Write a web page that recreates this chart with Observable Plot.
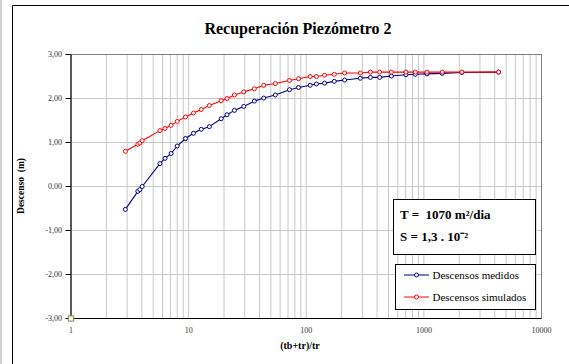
<!DOCTYPE html>
<html><head><meta charset="utf-8">
<script src="https://cdn.jsdelivr.net/npm/d3@7"></script>
<script src="https://cdn.jsdelivr.net/npm/@observablehq/plot@0.6"></script>
<style>body{margin:0;background:#fff;} svg{display:block;}</style>
</head><body><div id="chart"></div>
<script>
// ---- data ----
const ratio = [2.9, 3.7, 3.85, 4.03, 5.7, 6.3, 7.1, 8.0, 9.4, 11, 12.8, 15, 18.9, 21.2, 24.5, 29.4, 36.2, 43.5, 54.6, 72, 86, 108, 122, 143, 173, 212, 288, 351, 421, 529, 704, 845, 1062, 1432, 2104, 4315];
const medidos = [-0.52, -0.11, -0.07, 0.00, 0.52, 0.64, 0.75, 0.92, 1.09, 1.21, 1.30, 1.36, 1.54, 1.63, 1.73, 1.82, 1.94, 2.01, 2.08, 2.20, 2.25, 2.30, 2.33, 2.35, 2.39, 2.42, 2.46, 2.48, 2.48, 2.51, 2.54, 2.55, 2.56, 2.57, 2.59, 2.60];
const simulados = [0.80, 0.96, 0.99, 1.04, 1.27, 1.32, 1.39, 1.48, 1.58, 1.67, 1.75, 1.84, 1.95, 2.00, 2.08, 2.15, 2.22, 2.30, 2.34, 2.41, 2.45, 2.50, 2.50, 2.53, 2.55, 2.58, 2.58, 2.60, 2.60, 2.60, 2.60, 2.60, 2.60, 2.60, 2.60, 2.60];
const seriesNames = ["Descensos medidos", "Descensos simulados"];
const seriesColors = ["#000080", "#ff0000"];
const originX = [1];
const originY = [-3];
const xTickLabels = [1, 10, 100, 1000, 10000];
const yTickLabels = [-3, -2, -1, 0, 1, 2, 3];
const titleText = "Recuperación Piezómetro 2";
const xLabelText = "(tb+tr)/tr";
const yLabelText = "Descenso  (m)";
const paramLines = ["T =  1070 m²/dia", "S = 1,3 . 10⁻²"];

// ---- build ----
const W = 569, H = 364;
const serif = "'Liberation Serif', 'Times New Roman', serif";
const seriesData = [medidos, simulados].map((vals, i) =>
  ratio.map((r, j) => ({x: r, y: vals[j], s: seriesNames[i]})));
const allData = seriesData.flat();
const originData = originX.map((x, i) => ({x, y: originY[i]}));
const fmtY = d => d.toFixed(2).replace(".", ",");
const minorTicks = d3.scaleLog().domain([1, 10000]).ticks();

const plot = Plot.plot({
  width: W, height: H,
  marginLeft: 70.5, marginRight: 28, marginTop: 54, marginBottom: 46,
  style: {fontFamily: serif, fontSize: "8px", background: "white", overflow: "visible"},
  x: {type: "log", domain: [1, 10000]},
  y: {domain: [-3, 3]},
  color: {domain: seriesNames, range: seriesColors},
  marks: [
    Plot.gridX(minorTicks, {stroke: "#c8c8c8", strokeOpacity: 1}),
    Plot.gridY(yTickLabels, {stroke: "#c8c8c8", strokeOpacity: 1}),
    Plot.frame({stroke: "#808080"}),
    Plot.ruleX([1], {stroke: "black"}),
    Plot.ruleY([-3], {stroke: "black"}),
    Plot.axisY(yTickLabels, {tickSize: 5, tickPadding: 4, tickFormat: fmtY, label: null, stroke: "black", fill: "#333", fontSize: 8}),
    Plot.axisX(xTickLabels, {tickSize: 0, tickPadding: 9, tickFormat: d => String(d), label: null, fill: "#333", fontSize: 8}),
    Plot.line(allData, {x: "x", y: "y", z: "s", stroke: "s", strokeWidth: 1.1}),
    Plot.dot(allData, {x: "x", y: "y", stroke: "s", fill: "white", r: 2, strokeWidth: 1}),
    Plot.dot(originData, {x: "x", y: "y", symbol: "square", r: 3, fill: "#ffffc0", stroke: "#808080", strokeWidth: 1})
  ]
});

const svg = d3.select(plot);
// outer chart-area border
svg.append("line").attr("x1", 1).attr("x2", 1).attr("y1", 0).attr("y2", H).attr("stroke", "#c0c0c0").attr("stroke-width", 1.5);
svg.append("line").attr("x1", 12.5).attr("x2", 12.5).attr("y1", 5.5).attr("y2", H).attr("stroke", "black");
svg.append("line").attr("x1", 12.5).attr("x2", W).attr("y1", 5.5).attr("y2", 5.5).attr("stroke", "black");

// title
svg.append("text").attr("x", 298).attr("y", 33.5).attr("text-anchor", "middle")
  .attr("font-family", serif).attr("font-weight", "bold").attr("font-size", 16).attr("fill", "black").text(titleText);
// x label
svg.append("text").attr("x", 300).attr("y", 349).attr("text-anchor", "middle")
  .attr("font-family", serif).attr("font-weight", "bold").attr("font-size", 10).attr("fill", "black").text(xLabelText);
// y label
svg.append("text").attr("transform", "translate(24,186) rotate(-90)").attr("text-anchor", "middle")
  .attr("font-family", serif).attr("font-weight", "bold").attr("font-size", 9.5).attr("fill", "black").text(yLabelText);

// parameter box
const pb = svg.append("g");
pb.append("rect").attr("x", 393.5).attr("y", 199.5).attr("width", 142).attr("height", 55).attr("fill", "white").attr("stroke", "black");
paramLines.forEach((t, i) => {
  pb.append("text").attr("x", 400).attr("y", 219 + i * 22).attr("text-anchor", "start").attr("font-family", serif).attr("font-weight", "bold")
    .attr("font-size", 13).attr("fill", "black").text(t);
});

// legend
const lg = svg.append("g");
lg.append("rect").attr("x", 395.5).attr("y", 264.5).attr("width", 140).attr("height", 45).attr("fill", "white").attr("stroke", "black");
seriesNames.forEach((name, i) => {
  const yy = 275 + i * 22;
  lg.append("line").attr("x1", 404).attr("x2", 429).attr("y1", yy).attr("y2", yy).attr("stroke", seriesColors[i]);
  lg.append("circle").attr("cx", 416.5).attr("cy", yy).attr("r", 2).attr("fill", "white").attr("stroke", seriesColors[i]);
  lg.append("text").attr("x", 432.5).attr("y", yy + 3.5).attr("text-anchor", "start").attr("font-family", serif).attr("font-size", 11).attr("fill", "black").text(name);
});

document.getElementById("chart").appendChild(plot);
</script>
</body></html>
